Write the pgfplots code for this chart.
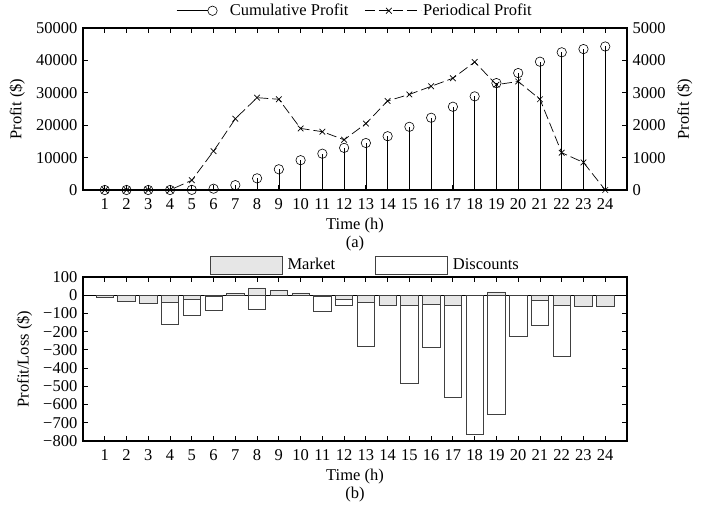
\documentclass[border=0pt]{standalone}
\usepackage{fontspec}
\setmainfont{Liberation Serif}
\usepackage{pgfplots}
\pgfplotsset{compat=1.18}
\definecolor{mkt}{HTML}{E6E6E6}
\definecolor{edge}{HTML}{404040}
\pgfplotsset{
  base/.style={
    scale only axis, width=544pt, xmin=0, xmax=25,
    xtick={1,...,24}, anchor=south west,
    tick align=inside, major tick length=5pt,
    scaled ticks=false,
    axis line style={line width=1.3pt},
    every tick/.style={black, line width=0.9pt},
    /pgf/number format/assume math mode=true,
    /pgf/number format/1000 sep={},
    xticklabel style={yshift=-3pt},
    xlabel style={align=center, yshift=3pt},
  },
  cumleg/.style={legend image code/.code={\draw[##1, mark=none] (0pt,0pt) -- (31pt,0pt);
    \draw[##1] plot coordinates {(36pt,0pt)}; \path (51pt,0pt);}},
  perleg/.style={legend image code/.code={\draw[##1, mark repeat=2, mark phase=2]
    plot coordinates {(0pt,0pt) (24pt,0pt) (56pt,0pt)};}},
  boxleg/.style={legend image code/.code={\draw[##1] (0pt,-9pt) rectangle (72pt,9pt);}},
}
\begin{document}
\fontsize{16.5}{18}\selectfont
\begin{tikzpicture}
\path[use as bounding box] (0pt,0pt) rectangle (706pt,504pt);
% ---------- (a) left axis: cumulative profit
\begin{axis}[base, at={(83pt,314pt)}, height=162pt,
  ymin=0, ymax=50000, ytick={0,10000,...,50000},
  ytick pos=left, xtick pos=both, xticklabel pos=lower,
  xlabel={Time (h)\\(a)}, ylabel={Profit (\$)}]
\addplot[ycomb, black, line width=0.6pt, mark=o, mark size=4.7pt, mark options={solid}]
  coordinates {(1,0)(2,0)(3,0)(4,0)(5,50)(6,400)(7,1500)(8,3600)(9,6400)(10,9200)
  (11,11200)(12,13000)(13,14500)(14,16600)(15,19500)(16,22300)(17,25700)(18,28900)
  (19,33000)(20,36100)(21,39600)(22,42500)(23,43500)(24,44300)};
\end{axis}
% ---------- (a) right axis: periodical profit
\begin{axis}[base, at={(83pt,314pt)}, height=162pt,
  ymin=0, ymax=5000, ytick={0,1000,...,5000},
  ytick pos=right, yticklabel pos=right, hide x axis,
  ylabel={Profit (\$)},
  legend columns=2,
  legend style={draw=none, fill=none, at={(0.5,1)}, anchor=south, yshift=6pt,
    /tikz/every even column/.append style={column sep=14pt}}]
\addlegendimage{black, line width=0.6pt, mark=o, mark size=4.7pt, cumleg}
\addlegendentry{Cumulative Profit}
\addplot[black, line width=0.7pt, dash pattern=on 10pt off 4pt, mark=x, mark size=4pt,
  mark options={solid}, perleg]
  coordinates {(1,0)(2,0)(3,0)(4,0)(5,300)(6,1200)(7,2200)(8,2850)(9,2800)(10,1900)
  (11,1800)(12,1550)(13,2050)(14,2750)(15,2950)(16,3200)(17,3450)(18,3950)
  (19,3250)(20,3350)(21,2800)(22,1150)(23,850)(24,0)};
\addlegendentry{Periodical Profit}
\end{axis}
% ---------- (b)
\begin{axis}[base, at={(83pt,63pt)}, height=164pt,
  ymin=-800, ymax=100, ytick={-800,-700,...,100},
  yticklabels={−800,−700,−600,−500,−400,−300,−200,−100,0,100},
  xtick pos=both, xticklabel pos=lower, ytick pos=both, yticklabel pos=left,
  extra y ticks={0}, extra y tick labels={},
  extra y tick style={grid=major, major grid style={black, line width=0.6pt}},
  xlabel={Time (h)\\(b)}, ylabel={Profit/Loss (\$)},
  legend columns=2,
  legend style={draw=none, fill=none, at={(0.519,1)}, anchor=south, yshift=0pt,
    /tikz/every odd column/.append style={column sep=3pt},
    /tikz/every even column/.append style={column sep=38pt}},
  boxleg]
\addlegendimage{fill=mkt, draw=edge, line width=0.7pt}
\addlegendentry{Market}
\addlegendimage{fill=white, draw=edge, line width=0.7pt}
\addlegendentry{Discounts}
\addplot[ybar, bar width=0.8, bar shift=0pt, fill=white, draw=edge, line width=0.7pt, forget plot]
  coordinates {(4,-159)(5,-113)(6,-84)(8,-79)(11,-86)(12,-57)(13,-280)(15,-481)
  (16,-285)(17,-561)(18,-762)(19,-651)(20,-225)(21,-166)(22,-336)};
\addplot[ybar, bar width=0.8, bar shift=0pt, fill=mkt, draw=edge, line width=0.7pt, forget plot]
  coordinates {(1,-12)(2,-31)(3,-46)(4,-40)(5,-22)(6,-5)(7,8)(8,40)(9,27)(10,13)
  (11,-6)(12,-22)(13,-37)(14,-57)(15,-55)(16,-51)(17,-55)(19,18)(21,-26)(22,-53)
  (23,-62)(24,-62)};
\end{axis}
\end{tikzpicture}
\end{document}
